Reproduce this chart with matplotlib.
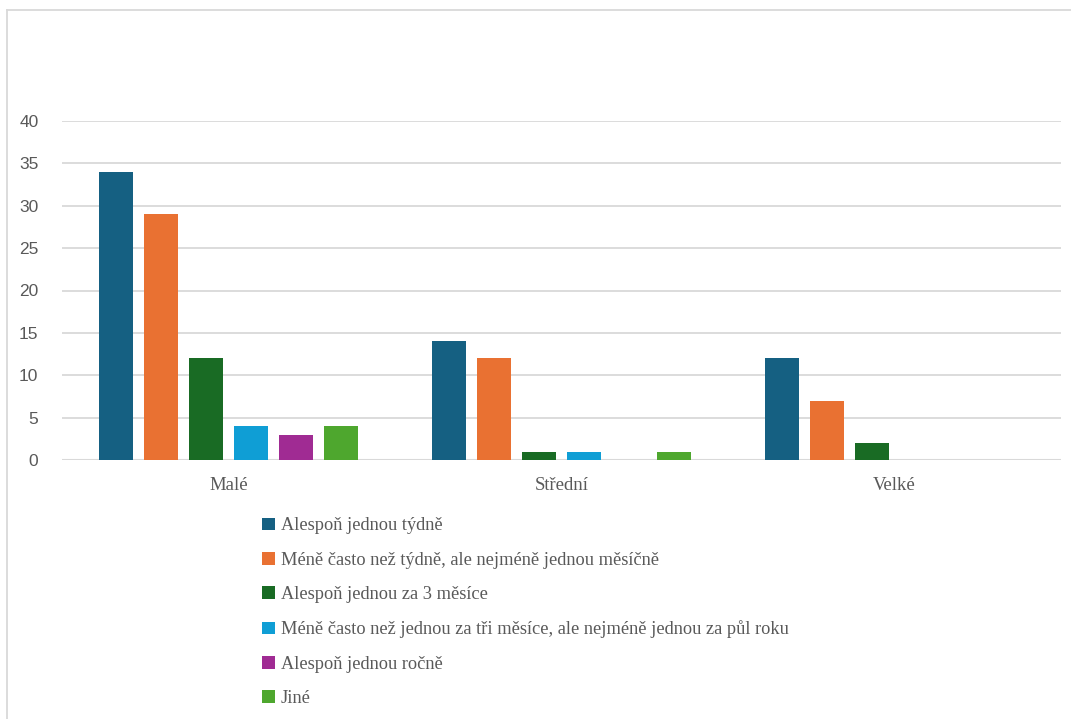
import matplotlib.pyplot as plt
import numpy as np
from matplotlib.lines import Line2D
from matplotlib.patches import Patch


W, H = 1071, 719

CATEGORIES = ["Malé", "Střední", "Velké"]
SERIES = [
    "Alespoň jednou týdně",
    "Méně často než týdně, ale nejméně jednou měsíčně",
    "Alespoň jednou za 3 měsíce",
    "Méně často než jednou za tři měsíce, ale nejméně jednou za půl roku",
    "Alespoň jednou ročně",
    "Jiné",
]
VALUES = [
    [34, 14, 12],
    [29, 12, 7],
    [12, 1, 2],
    [4, 1, 0],
    [3, 0, 0],
    [4, 1, 0],
]
COLORS = ["#156082", "#E97132", "#196B24", "#0F9ED5", "#A02B93", "#4EA72E"]
Y_TICKS = [0, 5, 10, 15, 20, 25, 30, 35, 40]


def main():
    fig = plt.figure(figsize=(W / 100, H / 100), dpi=100)
    ax = fig.add_axes([62 / W, (H - 460) / H, (1061 - 62) / W, (460 - 121) / H])

    x = np.arange(len(CATEGORIES))
    step = 0.135
    width = 0.103
    offsets = (np.arange(len(SERIES)) - (len(SERIES) - 1) / 2) * step
    for vals, off, color in zip(VALUES, offsets, COLORS):
        ax.bar(x + off, vals, width=width, color=color, zorder=3)

    ax.set_xlim(-0.5, len(CATEGORIES) - 0.5)
    ax.set_ylim(0, 40)
    ax.set_yticks(Y_TICKS)
    ax.yaxis.grid(True, color="#D9D9D9", linewidth=1.3, zorder=0)
    ax.set_axisbelow(True)
    for side in ["top", "right", "left", "bottom"]:
        ax.spines[side].set_visible(False)
    ax.axhline(0, color="#D9D9D9", linewidth=1.5, zorder=2)

    ax.tick_params(axis="y", length=0, pad=17, labelsize=12.5, labelcolor="#595959")
    ax.tick_params(axis="x", length=0, pad=12, labelsize=13.5, labelcolor="#595959")
    ax.set_xticks(x)
    ax.set_xticklabels(CATEGORIES, family="Liberation Serif")
    for lab in ax.get_yticklabels():
        lab.set_family("Liberation Sans")

    handles = [Patch(facecolor=c, edgecolor="none") for c in COLORS]
    fig.legend(
        handles,
        SERIES,
        loc="upper left",
        bbox_to_anchor=(255 / W, (H - 510) / H),
        frameon=False,
        prop={"family": "Liberation Serif", "size": 13.2},
        labelcolor="#595959",
        handlelength=0.7,
        handleheight=0.7,
        handletextpad=0.3,
        labelspacing=0.95,
        borderaxespad=0,
    )

    # outer chart border (top and left only visible)
    fig.add_artist(Line2D([7 / W, 1.0], [1 - 10 / H, 1 - 10 / H], color="#D9D9D9", linewidth=1.3))
    fig.add_artist(Line2D([7 / W, 7 / W], [0, 1 - 10 / H], color="#D9D9D9", linewidth=1.3))

    fig.savefig("out.png", dpi=100)
    plt.close(fig)


if __name__ == "__main__":
    main()
